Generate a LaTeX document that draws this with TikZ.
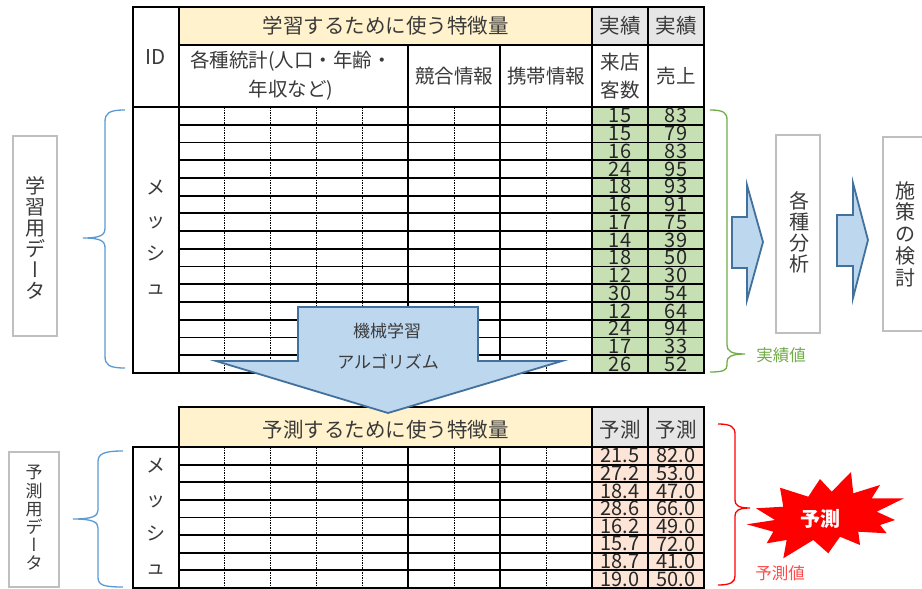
\documentclass[tikz,border=0pt]{standalone}
\usepackage{fontspec}
\usepackage{graphicx}
\setmainfont{Noto Sans CJK JP}
\newfontfamily\jpvert{Noto Sans CJK JP}[RawFeature=+vert]
\usetikzlibrary{calc}
\definecolor{hdryellow}{HTML}{FFF2CC}
\definecolor{hdrgray}{HTML}{E7E6E6}
\definecolor{cellgreen}{HTML}{C6E0B4}
\definecolor{cellpink}{HTML}{FCE4D6}
\definecolor{arrowfill}{HTML}{BDD7EE}
\definecolor{arrowline}{HTML}{41719C}
\definecolor{bracblue}{HTML}{5B9BD5}
\definecolor{bracgreen}{HTML}{70AD47}
\definecolor{bracred}{HTML}{FF0000}
\definecolor{labred}{HTML}{FF4B4B}
\definecolor{txt}{HTML}{3A3A3A}
\definecolor{numc}{HTML}{262626}
\definecolor{boxgray}{HTML}{BFBFBF}
\begin{document}
\begin{tikzpicture}[x=1pt,y=-1pt,
  tline/.style={line width=1.8pt, black, line cap=rect},
  dline/.style={line width=0.7pt, black, dash pattern=on 1.5pt off 1pt},
  num/.style={font=\fontsize{20}{20}\selectfont, text=numc, inner sep=0pt},
  hdr/.style={font=\fontsize{20.5}{24}\selectfont, text=txt, inner sep=0pt, align=center},
  subhdr/.style={font=\fontsize{19.5}{29}\selectfont, text=txt, inner sep=0pt, align=center},
  vlab/.style={inner sep=0pt, align=center, text=txt},
  graybox/.style={draw=boxgray, line width=1.2pt},
  blockarrow/.style={fill=arrowfill, draw=arrowline, line width=1.8pt, line join=miter},
  bracepath/.style={line width=1.3pt}
]
\useasboundingbox (0,0) rectangle (922,589);
\fill[white] (0,0) rectangle (922,589);

% ---------- top table fills ----------
\fill[hdryellow] (179,7) rectangle (592,45);
\fill[hdrgray] (592,7) rectangle (704,45);
\fill[cellgreen] (592,107) rectangle (704,373);

% dashed inner lines
\foreach \xx in {224,270,316,362,454,546}
  \draw[dline] (\xx,107) -- (\xx,373);
% row lines
\foreach \k in {1,...,14}
  \draw[tline] (179,{107+\k*17.733}) -- (704,{107+\k*17.733});
% grid
\draw[tline] (133,7) rectangle (704,373);
\draw[tline] (179,7) -- (179,373);
\draw[tline] (179,45) -- (704,45);
\draw[tline] (133,107) -- (704,107);
\foreach \xx in {408,500}
  \draw[tline] (\xx,45) -- (\xx,373);
\foreach \xx in {592,648}
  \draw[tline] (\xx,7) -- (\xx,373);

% header texts
\node[hdr] (h1) at (385.5,26) {学習するために使う特徴量};
\node[hdr] (h2) at (620,26) {実績};
\node[hdr] (h3) at (676,26) {実績};
\node[hdr] (hid) at (156,57) {ID};
\node[subhdr] (hstat) at (291,75.5) {各種統計(人口・年齢・\\年収など)};
\node[subhdr] (hcomp) at (454,76) {競合情報};
\node[subhdr] (hmob) at (546,76) {携帯情報};
\node[subhdr, font=\fontsize{19.5}{28}\selectfont] (hvis) at (620,76) {来店\\客数};
\node[subhdr] (hsal) at (676,76) {売上};
\node[vlab, font=\fontsize{19}{33.4}\selectfont] (mesh1) at (156,237) {メ\\ッ\\シ\\ュ};

% numbers
\foreach \a/\b [count=\i] in {15/83,15/79,16/83,24/95,18/93,16/91,17/75,14/39,18/50,12/30,30/54,12/64,24/94,17/33,26/52}
{
  \node[num] (va\i) at (620,{107+(\i-0.5)*17.733}) {\a};
  \node[num] (sa\i) at (676,{107+(\i-0.5)*17.733}) {\b};
}

% ---------- bottom table ----------
\fill[hdryellow] (179,407) rectangle (592,447);
\fill[hdrgray] (592,407) rectangle (704,447);
\fill[cellpink] (592,447) rectangle (704,588);
\foreach \xx in {224,270,316,362,454,546}
  \draw[dline] (\xx,447) -- (\xx,588);
\foreach \k in {1,...,7}
  \draw[tline] (179,{447+\k*17.625}) -- (704,{447+\k*17.625});
\draw[tline] (179,407) rectangle (704,588);
\draw[tline] (133,447) rectangle (179,588);
\draw[tline] (179,447) -- (704,447);
\foreach \xx in {408,500}
  \draw[tline] (\xx,447) -- (\xx,588);
\foreach \xx in {592,648}
  \draw[tline] (\xx,407) -- (\xx,588);

\node[hdr] (b1) at (385.5,430) {予測するために使う特徴量};
\node[hdr] (b2) at (620,430) {予測};
\node[hdr] (b3) at (676,430) {予測};
\node[vlab, font=\fontsize{19}{34}\selectfont] (mesh2) at (156,516) {メ\\ッ\\シ\\ュ};

\foreach \a/\b [count=\i] in {21.5/82.0,27.2/53.0,18.4/47.0,28.6/66.0,16.2/49.0,15.7/72.0,18.7/41.0,19.0/50.0}
{
  \node[num] (pa\i) at (620,{447+(\i-0.5)*17.625}) {\a};
  \node[num] (pb\i) at (676,{447+(\i-0.5)*17.625}) {\b};
}

% ---------- big down arrow ----------
\draw[blockarrow] (298,307) -- (478,307) -- (478,361) -- (562,361) -- (388,413) -- (216,361) -- (298,361) -- cycle;
\node[vlab, font=\fontsize{17}{17}\selectfont] (ml1) at (387,331) {機械学習};
\node[vlab, font=\fontsize{17}{17}\selectfont] (ml2) at (388,362) {アルゴリズム};

% ---------- left boxes & braces ----------
\draw[graybox] (13,136) rectangle (57,336);
\node[vlab, font=\fontsize{20}{21}\selectfont] (learn) at (35,238) {学\\習\\用\\デ\\{\jpvert ー}\\タ};
\draw[bracblue, bracepath] (125,110) .. controls (109,110) and (105,113) .. (105,122) -- (105,228)
  .. controls (105,235) and (101,238) .. (83,238)
  .. controls (101,238) and (105,241) .. (105,248) -- (105,356)
  .. controls (105,365) and (109,368) .. (125,368);

\draw[graybox] (9,452) rectangle (59,587);
\node[vlab, font=\fontsize{17}{18.2}\selectfont] (predd) at (34,518) {予\\測\\用\\デ\\{\jpvert ー}\\タ};
\draw[bracblue, bracepath] (123,451) .. controls (103,451) and (98,454) .. (98,462) -- (98,510)
  .. controls (98,516) and (93,519) .. (73,519)
  .. controls (93,519) and (98,522) .. (98,528) -- (98,577)
  .. controls (98,585) and (103,587) .. (123,587);

% ---------- right side ----------
\draw[bracgreen, bracepath] (710,110) .. controls (724,110) and (727,113) .. (727,120) -- (727,345)
  .. controls (727,351) and (731,354) .. (745,354)
  .. controls (731,354) and (727,357) .. (727,362) -- (727,365)
  .. controls (727,370) and (724,372) .. (710,372);
\node[vlab, text=bracgreen, font=\fontsize{16.5}{17}\selectfont] (actlab) at (781,355) {実績値};

\draw[blockarrow] (732,217) -- (747,217) -- (747,185) -- (763,242) -- (747,300) -- (747,268) -- (732,268) -- cycle;
\draw[graybox] (776,135) rectangle (820,333);
\node[vlab, font=\fontsize{20}{21}\selectfont] (anal) at (799,232) {各\\種\\分\\析};
\draw[blockarrow] (837,215) -- (853,215) -- (853,183) -- (868,240) -- (853,298) -- (853,266) -- (837,266) -- cycle;
\draw[graybox] (883,137) rectangle (926,331);
\node[vlab, font=\fontsize{20}{21.7}\selectfont] (plan) at (905,234) {施\\策\\の\\検\\討};

\draw[bracred, bracepath] (718,424) .. controls (731,424) and (735,427) .. (735,434) -- (735,500)
  .. controls (735,505) and (738,508) .. (750,508)
  .. controls (738,508) and (735,511) .. (735,516) -- (735,576)
  .. controls (735,582) and (731,585) .. (718,585);
\node[vlab, text=labred, font=\fontsize{16.5}{17}\selectfont] (predlab) at (780,573) {予測値};

\fill[bracred] (756,508.3) -- (783.3,506.7) -- (780,487.7) -- (808.3,496.7) -- (820,479) -- (831.7,491.7)
  -- (851,472) -- (853.3,493.3) -- (880,485) -- (871.7,498.3) -- (904,498.3) -- (876.7,511.7)
  -- (895,520) -- (880,525) -- (886.7,533.3) -- (858.3,531.7) -- (860,545) -- (840,536.7)
  -- (828.3,553.3) -- (813.3,540) -- (783.3,558.3) -- (786.7,540) -- (766.7,543.3) -- (773.3,531.7)
  -- (746.7,524.3) -- (775,520) -- cycle;
\node[vlab, text=white, font=\fontsize{20}{20}\selectfont\bfseries] (star) at (820,519) {予測};
\end{tikzpicture}
\end{document}
